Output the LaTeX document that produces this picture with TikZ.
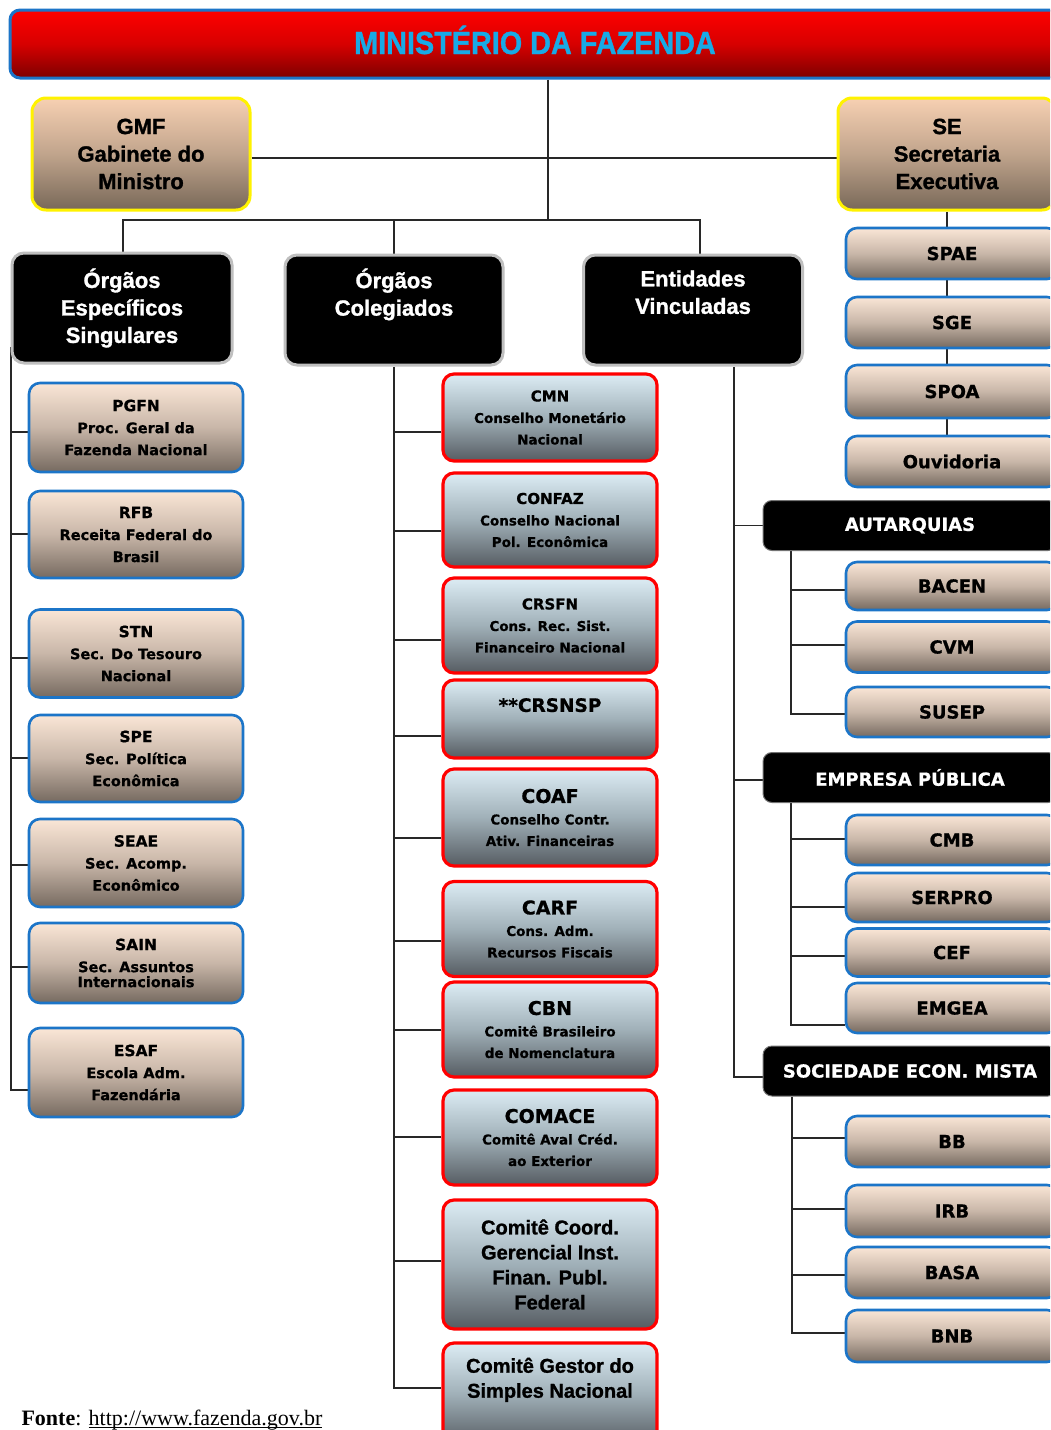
\documentclass[tikz,border=0pt]{standalone}
\usepackage{fontspec}
\setmainfont{Liberation Sans}
\newfontfamily\arb{Liberation Sans Bold}[FakeBold=1.2]
\newfontfamily\arbn{Liberation Sans Bold}[FakeBold=1,FakeStretch=0.9]
\newfontfamily\dvb{DejaVu Sans Bold}[FakeBold=0.8]
\newfontfamily\lser{Liberation Serif}
\newfontfamily\lserb{Liberation Serif Bold}
\usetikzlibrary{backgrounds}
\definecolor{bblue}{RGB}{28,117,200}
\definecolor{peachT}{RGB}{250,230,214}
\definecolor{peachM}{RGB}{200,182,168}
\definecolor{peachB}{RGB}{118,106,96}
\definecolor{gpeachT}{RGB}{247,208,178}
\definecolor{gpeachM}{RGB}{192,164,140}
\definecolor{gpeachB}{RGB}{120,104,88}
\definecolor{redT}{RGB}{220,236,244}
\definecolor{redM}{RGB}{160,176,184}
\definecolor{redB}{RGB}{86,92,98}
\definecolor{hdrT}{RGB}{255,0,0}
\definecolor{hdrM}{RGB}{215,0,0}
\definecolor{hdrB}{RGB}{125,0,0}
\definecolor{hdrtxt}{RGB}{24,170,230}
\definecolor{lnc}{RGB}{40,40,40}
\newcommand{\bigttl}[1]{{\fontsize{15.5}{22}\selectfont #1}}
\newcommand{\redttl}[1]{{\fontsize{15}{21.5}\selectfont #1}}
\newcommand{\redbig}[1]{{\fontsize{19}{24}\selectfont #1}}
\newsavebox\ulbox
\newcommand{\thickul}[1]{\sbox\ulbox{#1}\rlap{\rule[-3pt]{\wd\ulbox}{1.3pt}}\usebox\ulbox}
\begin{document}
\begin{tikzpicture}[x=1pt,y=-1pt,
  conn/.style={draw=lnc,line width=1.6},
  box/.style={rounded corners=11,align=center,inner sep=0pt,minimum width=214},
  hdr/.style={box,rounded corners=10,draw=bblue,line width=3,top color=hdrT,bottom color=hdrB,middle color=hdrM,text=hdrtxt,font=\arbn\fontsize{32}{32}\selectfont,text height=23,text depth=3},
  pbox/.style={box,draw=bblue,line width=2.6,top color=peachT,bottom color=peachB,middle color=peachM,font=\dvb\fontsize{14.5}{22}\selectfont},
  rbox/.style={box,draw=red,line width=3.2,top color=redT,bottom color=redB,middle color=redM,font=\dvb\fontsize{13.5}{21.5}\selectfont},
  gbox/.style={box,rounded corners=14,draw=yellow,line width=3,top color=gpeachT,bottom color=gpeachB,middle color=gpeachM,minimum width=218,minimum height=112,font=\arb\fontsize{22}{27.5}\selectfont},
  kbox/.style={box,rounded corners=12,fill=black,draw=black!25,line width=3,text=white,minimum height=110,font=\arb\fontsize{22}{27.5}\selectfont},
  kbar/.style={box,rounded corners=9,fill=black,draw=black!55,line width=1,text=white,minimum width=294,minimum height=50,font=\dvb\fontsize{18}{18}\selectfont},
  sbox/.style={pbox,minimum width=212,font=\dvb\fontsize{18}{18}\selectfont},
]
\useasboundingbox (0,0) rectangle (1050,1430);
\clip (0,0) rectangle (1050,1430);

% header and top level
\node[hdr,minimum width=1050,minimum height=68] (mf) at (535,44) {MINISTÉRIO DA FAZENDA};
\node[gbox] (gmf) at (141,154) {GMF\\Gabinete do\\Ministro};
\node[gbox] (se) at (947,154) {SE\\Secretaria\\Executiva};

\node[kbox,minimum width=220] (oes) at (122,308) {Órgãos\\Específicos\\Singulares};
\node[kbox,minimum width=218] (oc) at (394,310) {Órgãos\\Colegiados\\\strut};
\node[kbox,minimum width=219] (ev) at (693,310) {Entidades\\Vinculadas\\\strut};

% left column
\node[pbox,minimum height=89] (pgfn) at (136,427.5) {\bigttl{PGFN}\\Proc. Geral da\\Fazenda Nacional};
\node[pbox,minimum height=87] (rfb) at (136,534.5) {\bigttl{RFB}\\Receita Federal do\\Brasil};
\node[pbox,minimum height=88] (stn) at (136,653.5) {\bigttl{STN}\\Sec. Do Tesouro\\Nacional};
\node[pbox,minimum height=87] (spe) at (136,758.5) {\bigttl{SPE}\\Sec. Política\\Econômica};
\node[pbox,minimum height=88] (seae) at (136,863) {\bigttl{SEAE}\\Sec. Acomp.\\Econômico};
\node[pbox,minimum height=80] (sain) at (136,963) {\bigttl{SAIN}\\Sec. Assuntos\\[-7pt]Internacionais};
\node[pbox,minimum height=89] (esaf) at (136,1072.5) {\bigttl{ESAF}\\Escola Adm.\\Fazendária};

% middle column
\node[rbox,minimum height=87] (cmn) at (550,417.5) {\redttl{CMN}\\Conselho Monetário\\Nacional};
\node[rbox,minimum height=94] (confaz) at (550,520) {\redttl{CONFAZ}\\Conselho Nacional\\Pol. Econômica};
\node[rbox,minimum height=95] (crsfn) at (550,625.5) {\redttl{CRSFN}\\Cons. Rec. Sist.\\Financeiro Nacional};
\node[rbox,minimum height=78] (crsnsp) at (550,719) {{\fontsize{18.5}{26}\selectfont **CRSNSP}\\\strut};
\node[rbox,minimum height=97] (coaf) at (550,817.5) {\redbig{COAF}\\Conselho Contr.\\Ativ. Financeiras};
\node[rbox,minimum height=95] (carf) at (550,929) {\redbig{CARF}\\Cons. Adm.\\Recursos Fiscais};
\node[rbox,minimum height=95] (cbn) at (550,1029.5) {\redbig{CBN}\\Comitê Brasileiro\\de Nomenclatura};
\node[rbox,minimum height=95] (comace) at (550,1137.5) {\redbig{COMACE}\\Comitê Aval Créd.\\ao Exterior};
\node[rbox,minimum height=129,font=\arb\fontsize{20}{25}\selectfont] (coord) at (550,1264.5) {Comitê Coord.\\Gerencial Inst.\\Finan. Publ.\\Federal};
\node[rbox,minimum height=102,font=\arb\fontsize{20}{25}\selectfont] (gestor) at (550,1394) {Comitê Gestor do\\Simples Nacional\\\strut};

% SE column
\node[sbox,minimum height=51] (spae) at (952,253.5) {SPAE};
\node[sbox,minimum height=51] (sge) at (952,322.5) {SGE};
\node[sbox,minimum height=53] (spoa) at (952,391.5) {SPOA};
\node[sbox,minimum height=51] (ouv) at (952,461.5) {Ouvidoria};

% entities
\node[kbar] (aut) at (910,525.5) {AUTARQUIAS};
\node[sbox,minimum height=48] (bacen) at (952,586) {BACEN};
\node[sbox,minimum height=51] (cvm) at (952,647) {CVM};
\node[sbox,minimum height=50] (susep) at (952,712) {SUSEP};

\node[kbar] (emp) at (910,777.5) {EMPRESA PÚBLICA};
\node[sbox,minimum height=50] (cmb) at (952,840) {CMB};
\node[sbox,minimum height=49] (serpro) at (952,897.5) {SERPRO};
\node[sbox,minimum height=48] (cef) at (952,952.5) {CEF};
\node[sbox,minimum height=50] (emgea) at (952,1008) {EMGEA};

\node[kbar] (soc) at (910,1071) {SOCIEDADE ECON. MISTA};
\node[sbox,minimum height=51] (bb) at (952,1141.5) {BB};
\node[sbox,minimum height=52] (irb) at (952,1211) {IRB};
\node[sbox,minimum height=51] (basa) at (952,1272.5) {BASA};
\node[sbox,minimum height=52] (bnb) at (952,1336) {BNB};

\node[anchor=base west,font=\lser\fontsize{22}{22}\selectfont] (fonte) at (18,1425) {{\lserb Fonte}: \thickul{http://www.fazenda.gov.br}};

% connectors
\begin{pgfonlayer}{background}
\fill[white] (0,0) rectangle (1050,1430);
\coordinate (hc) at (548,220);
\coordinate (hl) at (123,220);
\coordinate (hr) at (700,220);
\draw[conn] (mf.south -| hc) -- (hc);
\draw[conn] (gmf.east |- 0,158) -- (se.west |- 0,158);
\draw[conn] (hl |- oes.north) -- (hl) -- (hr) -- (hr |- ev.north);
\draw[conn] (oc.north |- hc) -- (oc.north);
% SE chain
\draw[conn] (se.south) -- (se.south |- spae.north);
\draw[conn] (se.south |- spae.south) -- (se.south |- sge.north);
\draw[conn] (se.south |- sge.south) -- (se.south |- spoa.north);
\draw[conn] (se.south |- spoa.south) -- (se.south |- ouv.north);
% left trunk
\coordinate (lt) at (11,347);
\coordinate (lb) at (11,1090);
\draw[conn] (lt) -- (lb) -- (lb -| esaf.west);
\foreach \n/\y in {pgfn/432,rfb/534,stn/658,spe/758,seae/865,sain/967}
  \draw[conn] (\n.west |- 0,\y) -- (lb |- 0,\y);
% middle trunk
\coordinate (mb) at (394,1388);
\draw[conn] (oc.south) -- (mb) -- (mb -| gestor.west);
\foreach \n/\y in {cmn/432,confaz/531,crsfn/640,crsnsp/736,coaf/838,carf/941,cbn/1030,comace/1137,coord/1261}
  \draw[conn] (\n.west |- 0,\y) -- (mb |- 0,\y);
% right trunk
\coordinate (rb) at (734,1077);
\draw[conn] (ev.south -| rb) -- (rb) -- (rb -| soc.west);
\draw[conn] (aut.west) -- (aut.west -| rb);
\draw[conn] (emp.west |- 0,780) -- (rb |- 0,780);
% sub trunks
\coordinate (ab) at (791,714);
\draw[conn] (aut.south -| ab) -- (ab) -- (ab -| susep.west);
\foreach \n/\y in {bacen/590,cvm/645}
  \draw[conn] (\n.west |- 0,\y) -- (ab |- 0,\y);
\coordinate (eb) at (791,1025);
\draw[conn] (emp.south -| eb) -- (eb) -- (eb -| emgea.west);
\foreach \n/\y in {cmb/839,serpro/907,cef/956}
  \draw[conn] (\n.west |- 0,\y) -- (eb |- 0,\y);
\coordinate (sb) at (792,1333);
\draw[conn] (soc.south -| sb) -- (sb) -- (sb -| bnb.west);
\foreach \n/\y in {bb/1138,irb/1209,basa/1275}
  \draw[conn] (\n.west |- 0,\y) -- (sb |- 0,\y);
\end{pgfonlayer}
\end{tikzpicture}
\end{document}
